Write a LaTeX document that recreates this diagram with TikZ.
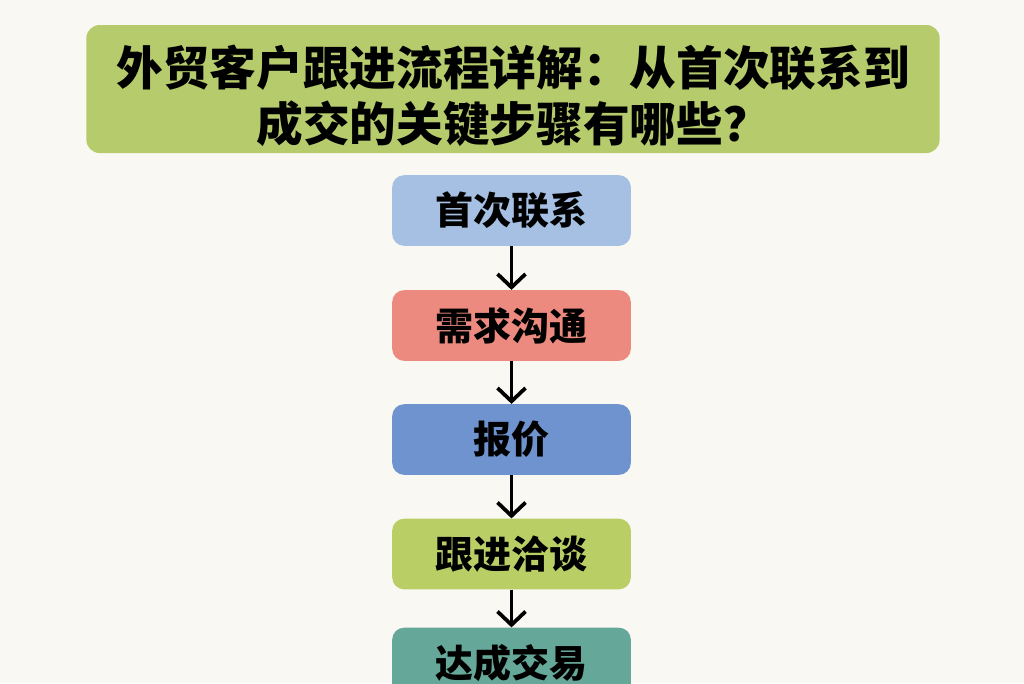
\documentclass[tikz,border=0pt]{standalone}
\usepackage{fontspec}
\setmainfont{Noto Sans CJK SC}
\usepackage{xcolor}
\usetikzlibrary{arrows.meta,positioning}

\definecolor{bgcream}{HTML}{FAF8F3}
\definecolor{titlegreen}{HTML}{B6CB6B}
\definecolor{lightblue}{HTML}{A5C0E2}
\definecolor{salmon}{HTML}{EC8A7F}
\definecolor{midblue}{HTML}{6F93CE}
\definecolor{leafgreen}{HTML}{B9CF66}
\definecolor{teal}{HTML}{65A899}

\tikzset{
  stepbox/.style={rounded corners=9pt, minimum width=179pt, minimum height=53pt,
    inner sep=0pt, font=\bfseries\fontsize{28.5}{32}\selectfont},
  flowarrow/.style={-{Straight Barb[length=10pt,width=21pt,line width=2.8pt]}, line width=2.8pt, black},
}

\begin{document}
\begin{tikzpicture}[x=0.75pt,y=0.75pt]
				      % Canvas
				      \fill[bgcream] (0,0) rectangle (1024,-683);
				      \useasboundingbox (0,0) rectangle (1024,-683);
				      \clip (0,0) rectangle (1024,-683);
				      % Title
				      \node[fill=titlegreen, rounded corners=10pt, minimum width=640pt, minimum height=96pt,
				        inner sep=0pt] (title) at (513,-89) {};
				      \node[align=center, inner sep=0pt, font=\bfseries\fontsize{35}{42}\selectfont]
				        (titletext) at ([yshift=-5pt]title.center)
				        {外贸客户跟进流程详解：从首次联系到\\成交的关键步骤有哪些？};
				      % Steps
				      \node[stepbox, fill=lightblue] (contact) at (511.5,-210.5) {首次联系};
				      \node[stepbox, fill=salmon] (needs) at (511.5,-325.5) {需求沟通};
				      \node[stepbox, fill=midblue] (quote) at (511.5,-439.5) {报价};
				      \node[stepbox, fill=leafgreen] (follow) at (511.5,-554) {跟进洽谈};
				      \node[stepbox, fill=teal] (deal) at (511.5,-663) {达成交易};
				      % Arrows
				      \draw[flowarrow] (contact) -- (needs);
				      \draw[flowarrow] (needs) -- (quote);
				      \draw[flowarrow] (quote) -- (follow);
				      \draw[flowarrow] (follow) -- (deal);
			      \end{tikzpicture}
\end{document}
